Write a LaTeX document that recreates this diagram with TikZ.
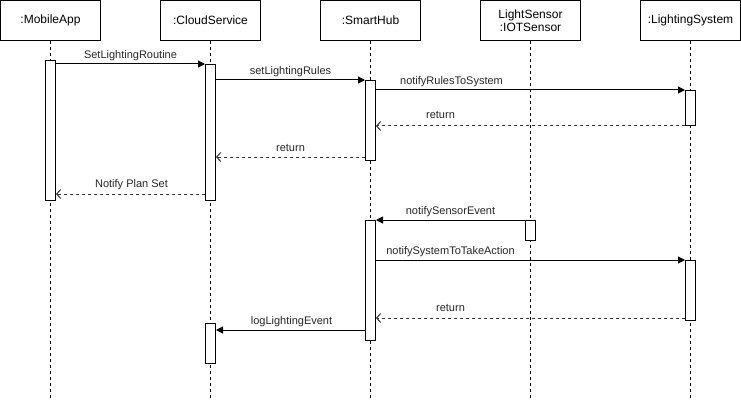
\documentclass[tikz,border=0pt]{standalone}
\usepackage{fontspec}
\setmainfont{Liberation Sans}
\usetikzlibrary{arrows.meta}

\begin{document}
\begin{tikzpicture}[x=1pt, y=-1pt,
  head/.style={draw, black, line width=1pt, minimum width=100pt, minimum height=40pt, inner sep=0pt, align=center, font=\fontsize{12}{14}\selectfont},
  lifeline/.style={black, line width=0.8pt, dash pattern=on 3pt off 3pt},
  actbox/.style={draw, black, fill=white, line width=1pt, minimum width=10pt, inner sep=0pt},
  call/.style={black, line width=1pt, -{Triangle[length=7pt,width=7pt]}},
  reply/.style={black!80, line width=1pt, dash pattern=on 3pt off 3pt, -{Straight Barb[length=4pt,width=9pt]}},
  msg/.style={black!85, font=\fontsize{11}{13}\selectfont, inner sep=0pt}]
\useasboundingbox (-0.5, -0.5) rectangle (740.5, 400.5);
\coordinate (bot) at (0, 401);
\node[head] (ma) at (50, 20){:MobileApp};
\node[head] (cs) at (210, 20){:CloudService};
\node[head] (sh) at (370, 20){:SmartHub};
\node[head] (sns) at (530, 20){LightSensor\\[-1pt]:IOTSensor};
\node[head] (lsys) at (690, 20){:LightingSystem};
\draw[lifeline] (ma.south) -- (ma |- bot);
\draw[lifeline] (cs.south) -- (cs |- bot);
\draw[lifeline] (sh.south) -- (sh |- bot);
\draw[lifeline] (sns.south) -- (sns |- bot);
\draw[lifeline] (lsys.south) -- (lsys |- bot);
\node[actbox, minimum height=140pt] (ma1) at (50, 130){};
\node[actbox, minimum height=136pt] (cs1) at (210, 132){};
\node[actbox, minimum height=80pt] (sh1) at (370, 120){};
\node[actbox, minimum height=35pt] (ls1) at (690, 107.5){};
\node[actbox, minimum height=120pt] (sh2) at (370, 280){};
\node[actbox, minimum height=20pt] (sns1) at (530, 230){};
\node[actbox, minimum height=60pt] (ls2) at (690, 290){};
\node[actbox, minimum height=40pt] (cs2) at (210, 343){};
\coordinate (r2) at ([yshift=4pt]sh1.south west);
\coordinate (r3) at ([yshift=7pt]cs1.south west);
\coordinate (r5) at ([yshift=3pt]ls2.south west);
\coordinate (c6) at ([yshift=-7pt]cs2.north east);
\draw[call] (ma1.east |- cs1.north) -- (cs1.north west);
\draw[call] (cs1.east |- sh1.north) -- (sh1.north west);
\draw[call] (sh1.east |- ls1.north) -- (ls1.north west);
\draw[reply] (ls1.south west) -- (sh1.east |- ls1.south);
\draw[reply] (r2) -- (cs1.east |- r2);
\draw[reply] (r3) -- (ma1.east |- r3);
\draw[call] (sns1.north west) -- (sh2.north east);
\draw[call] (sh2.east |- ls2.north) -- (ls2.north west);
\draw[reply] (r5) -- (sh2.east |- r5);
\draw[call] (sh2.west |- c6) -- (c6);
\node[msg] (l1) at (130, 55){SetLightingRoutine};
\node[msg] (l2) at (290, 71){setLightingRules};
\node[msg] (l3) at (451, 81){notifyRulesToSystem};
\node[msg] (l4) at (440, 114){return};
\node[msg] (l5) at (290, 147){return};
\node[msg] (l6) at (131, 184){Notify Plan Set};
\node[msg] (l7) at (450, 211){notifySensorEvent};
\node[msg] (l8) at (450, 251){notifySystemToTakeAction};
\node[msg] (l9) at (450, 307){return};
\node[msg] (l10) at (291, 321){logLightingEvent};
\end{tikzpicture}
\end{document}
